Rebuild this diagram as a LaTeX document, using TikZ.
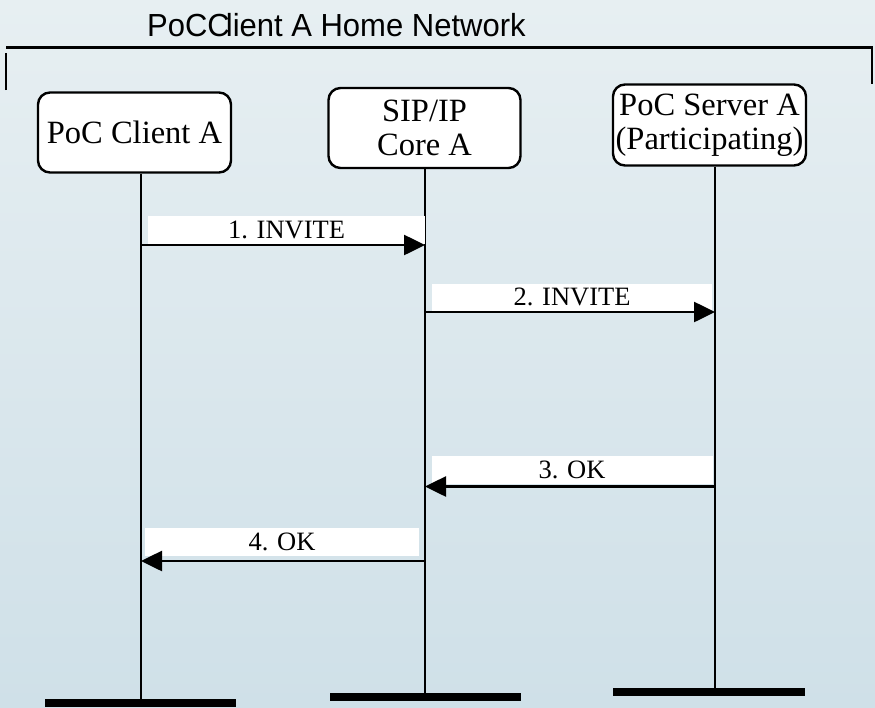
\documentclass[tikz,border=0pt]{standalone}
\usepackage{fontspec}
\setmainfont{Liberation Serif}
\newfontfamily\titlefont{Liberation Sans}
\usetikzlibrary{arrows.meta}

\definecolor{bgtop}{RGB}{231,239,242}
\definecolor{bgbot}{RGB}{207,224,232}

\tikzset{
  entity/.style={draw=black, line width=2.4pt, rounded corners=12pt, fill=white,
    align=center, inner sep=0pt, font=\fontsize{32.5}{33.5}\selectfont},
  life/.style={line width=2pt},
  msg/.style={line width=2.6pt, -{Triangle[length=21pt,width=20pt]}},
  msglabel/.style={fill=white, inner sep=0pt,
    font=\fontsize{26.5}{28}\selectfont},
  endbar/.style={fill=black, draw=none, inner sep=0pt, minimum height=8.5pt},
  frame/.style={line width=2.2pt},
}

\begin{document}
\begin{tikzpicture}[x=1pt,y=-1pt]
\useasboundingbox (0,0) rectangle (875,707);
\shade[top color=bgtop, bottom color=bgbot] (0,0) rectangle (875,707);

% network title and its bracket
\node[anchor=base west, inner sep=0pt,
  font=\titlefont\fontsize{31}{34}\selectfont] (title) at (147,36)
  {\scalebox{1.0}[1.03]{PoCC\kern-4pt lient A Home Network}};
\coordinate (bl) at (6,90);
\coordinate (bt) at (6,53);
\coordinate (tl) at (6,47.5);
\coordinate (tr) at (872,47.5);
\coordinate (br) at (872,84);
\draw[frame] (bl) -- (bt);
\draw[frame] (tl) -- (tr) -- (br);

% lifeline x positions
\coordinate (xA) at (141,0);
\coordinate (xB) at (425,0);
\coordinate (xC) at (715,0);

% entities
\node[entity, minimum width=193pt, minimum height=80pt] (ca) at (134.5,132.5) {PoC Client A};
\node[entity, minimum width=192pt, minimum height=80pt] (core) at (424.5,128) {SIP/IP\\Core A};
\node[entity, minimum width=193pt, minimum height=81pt] (srv) at (709.5,125) {PoC Server A\\(Participating)};

% end bars
\node[endbar, minimum width=191pt] (endA) at (140.5,703) {};
\node[endbar, minimum width=191pt] (endB) at (425.5,697) {};
\node[endbar, minimum width=192pt] (endC) at (709,692) {};

% lifelines
\draw[life] (ca.south -| xA) -- (endA.center -| xA);
\draw[life] (core.south -| xB) -- (endB.center -| xB);
\draw[life] (srv.south -| xC) -- (endC.center -| xC);

% message labels
\node[msglabel, minimum width=277pt, minimum height=28pt] (l1) at (286.5,229.5) {1. INVITE};
\node[msglabel, minimum width=280pt, minimum height=27pt] (l2) at (572,297) {2. INVITE};
\node[msglabel, minimum width=281pt, minimum height=28pt] (l3) at (572,469.5) {3. OK};
\node[msglabel, minimum width=274pt, minimum height=28pt] (l4) at (282,542) {4. OK};

% messages
\coordinate (m1a) at (141,245);  \coordinate (m1b) at (425,245);
\coordinate (m2a) at (425,312);  \coordinate (m2b) at (715,312);
\coordinate (m3a) at (715,486.5);  \coordinate (m3b) at (425,486.5);
\coordinate (m4a) at (425,561);  \coordinate (m4b) at (141,561);
\draw[msg] (m1a) -- (m1b);
\draw[msg] (m2a) -- (m2b);
\draw[msg] (m3a) -- (m3b);
\draw[msg] (m4a) -- (m4b);
\end{tikzpicture}
\end{document}
